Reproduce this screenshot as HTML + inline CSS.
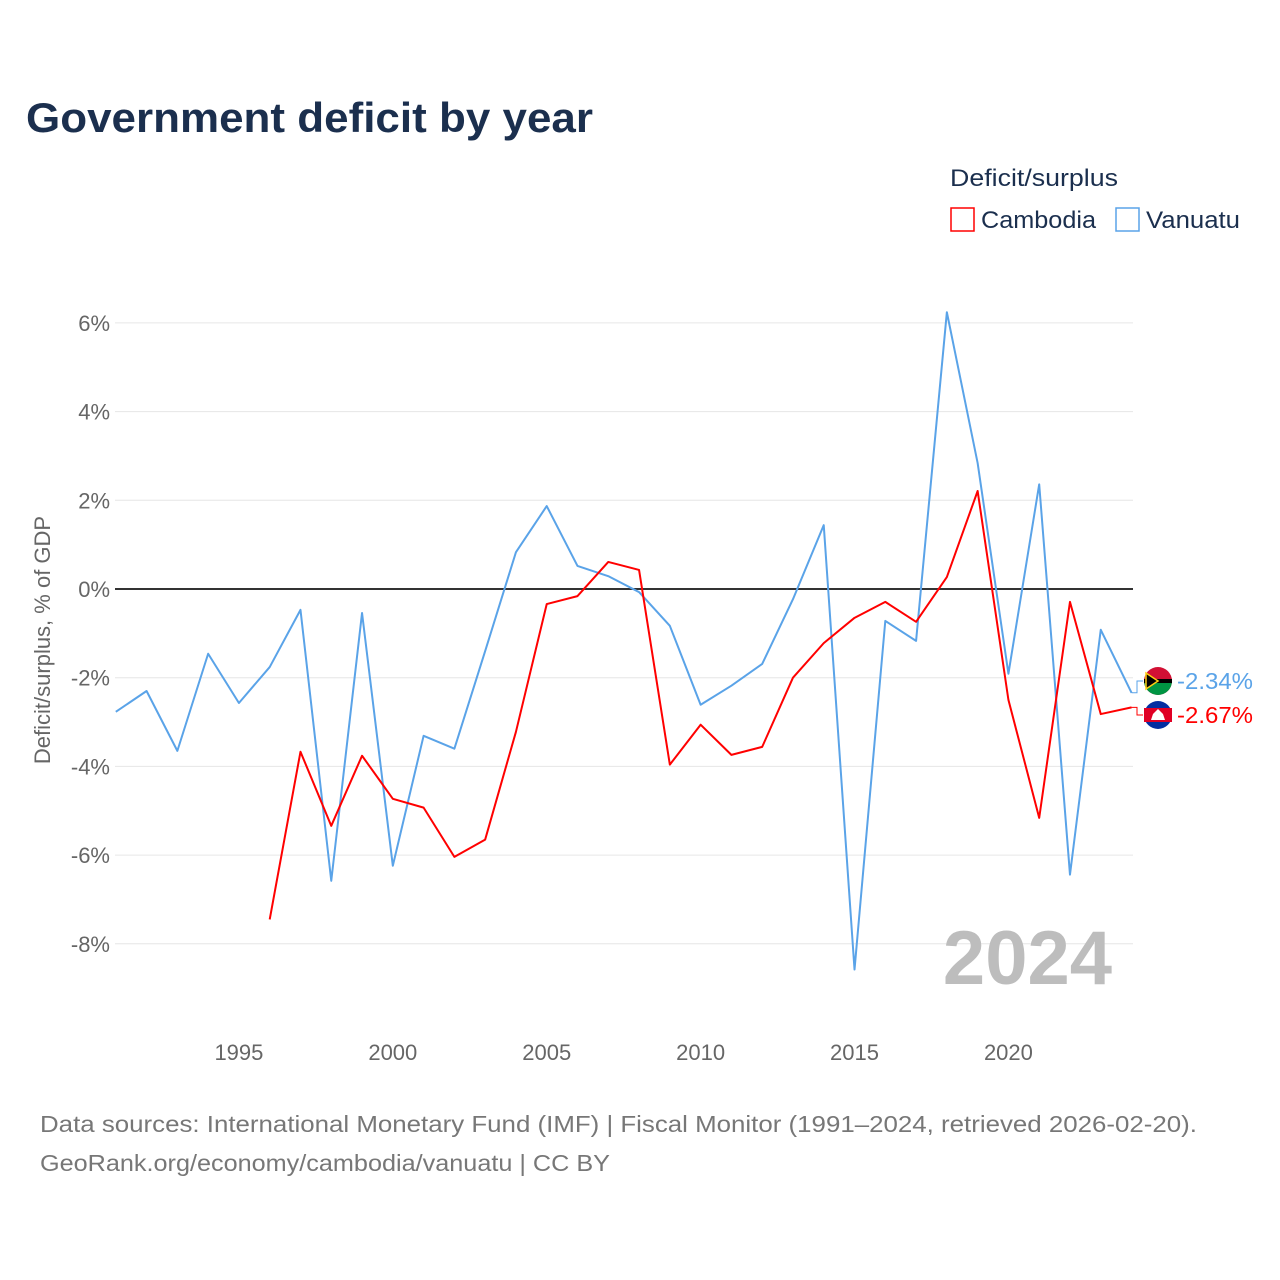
<!DOCTYPE html>
<html><head><meta charset="utf-8"><style>
html,body{margin:0;padding:0;background:#fff;width:1280px;height:1280px;overflow:hidden;font-family:"Liberation Sans",sans-serif}
</style></head><body>
<svg id="chart" width="1280" height="1280" xmlns="http://www.w3.org/2000/svg" font-family="Liberation Sans, sans-serif">
<text x="26" y="132" font-size="42" font-weight="bold" fill="#1b2f4e" textLength="567" lengthAdjust="spacingAndGlyphs">Government deficit by year</text>
<text x="950" y="186" font-size="24" fill="#1b2f4e" textLength="168" lengthAdjust="spacingAndGlyphs">Deficit/surplus</text>
<g><rect x="951" y="208" width="23" height="23" fill="none" stroke="#ff0000" stroke-width="1.5"/><text x="981" y="228" font-size="24" fill="#1b2f4e" textLength="115" lengthAdjust="spacingAndGlyphs">Cambodia</text></g>
<g><rect x="1116" y="208" width="23" height="23" fill="none" stroke="#5aa3e8" stroke-width="1.5"/><text x="1146" y="228" font-size="24" fill="#1b2f4e" textLength="94" lengthAdjust="spacingAndGlyphs">Vanuatu</text></g>
<text transform="translate(50,640) rotate(-90)" text-anchor="middle" font-size="22" fill="#666">Deficit/surplus, % of GDP</text>
<g id="grid"></g><g id="xt"></g><g id="lines"></g>
<text x="1112" y="984" text-anchor="end" font-size="76" font-weight="bold" fill="#bdbdbd">2024</text>
<text x="40" y="1132" font-size="23" fill="#777" textLength="1157" lengthAdjust="spacingAndGlyphs">Data sources: International Monetary Fund (IMF) | Fiscal Monitor (1991–2024, retrieved 2026-02-20).</text>
<text x="40" y="1171" font-size="23" fill="#777" textLength="570" lengthAdjust="spacingAndGlyphs">GeoRank.org/economy/cambodia/vanuatu | CC BY</text>
</svg>
<script>
const years=[];for(let y=1991;y<=2024;y++)years.push(y);
const vanuatu=[-2.77,-2.30,-3.65,-1.46,-2.57,-1.76,-0.47,-6.58,-0.54,-6.24,-3.31,-3.60,-1.40,0.83,1.87,0.52,0.29,-0.07,-0.83,-2.61,-2.18,-1.69,-0.23,1.44,-8.58,-0.72,-1.17,6.24,2.84,-1.91,2.36,-6.44,-0.92,-2.34];
const cambodiaYears=[];for(let y=1996;y<=2024;y++)cambodiaYears.push(y);
const cambodia=[-7.45,-3.67,-5.34,-3.76,-4.73,-4.93,-6.04,-5.65,-3.22,-0.34,-0.16,0.61,0.43,-3.96,-3.06,-3.74,-3.56,-2.00,-1.22,-0.65,-0.29,-0.74,0.27,2.21,-2.50,-5.16,-0.29,-2.82,-2.67];
const yTicks=[6,4,2,0,-2,-4,-6,-8];
const xTicks=[1995,2000,2005,2010,2015,2020];
const NS="http://www.w3.org/2000/svg";
const X=y=>115.8+(y-1991)*30.78, Y=v=>589-v*44.35;
function mk(t,a,p){const e=document.createElementNS(NS,t);for(const k in a)e.setAttribute(k,a[k]);p.appendChild(e);return e;}
const grid=document.getElementById('grid');
yTicks.forEach(v=>{
 const l=mk('line',{x1:115,x2:1133,y1:Y(v),y2:Y(v),stroke:v===0?'#333':'#e6e6e6','stroke-width':v===0?2:1},grid);
 
 
 const t=mk('text',{x:110,y:Y(v)+8,'text-anchor':'end','font-size':22,fill:'#666'},grid);
 t.textContent=v+'%';
 
 
});
const xt=document.getElementById('xt');
xTicks.forEach(v=>{
 const t=mk('text',{x:X(v),y:1060,'text-anchor':'middle','font-size':22,fill:'#666'},xt);
 t.textContent=v;
 
 
});
const lines=document.getElementById('lines');
function line(xs,vs,c,name){
 const p=mk('polyline',{points:xs.map((x,i)=>X(x)+','+Y(vs[i])).join(' '),fill:'none',stroke:c,'stroke-width':2,'stroke-linejoin':'round'},lines);
 
 
}
line(years,vanuatu,'#5aa3e8','vanuatu-line');
line(cambodiaYears,cambodia,'#ff0000','cambodia-line');
function endLabel(v,ly,c,name,flag){
 const g=mk('g',{},lines);
 
 
 const y0=Y(v);
 mk('polyline',{points:`${X(2024)},${y0} 1137,${y0} 1137,${ly} 1143,${ly}`,fill:'none',stroke:c,'stroke-width':1},g);
 flag(g,1158,ly);
 const t=mk('text',{x:1177,y:ly+8,'font-size':23,fill:c,textLength:76,lengthAdjust:'spacingAndGlyphs'},g);
 t.textContent=v.toFixed(2)+'%';
}
endLabel(vanuatu[vanuatu.length-1],681,'#5aa3e8','vanuatu-end-label',(g,cx,cy)=>{
 mk('circle',{cx,cy,r:14,fill:'#d21034'},g);
 mk('path',{d:`M${cx-14},${cy} A14,14 0 0 0 ${cx+14},${cy} Z`,fill:'#009543'},g);
 mk('rect',{x:cx-14,y:cy-2,width:28,height:4,fill:'#000'},g);
 mk('path',{d:`M${cx-12},${cy-8} L${cx},${cy} L${cx-12},${cy+8} Z`,fill:'#000',stroke:'#fdce12','stroke-width':1.5},g);
});
endLabel(cambodia[cambodia.length-1],715,'#ff0000','cambodia-end-label',(g,cx,cy)=>{
 mk('circle',{cx,cy,r:14,fill:'#032ea1'},g);
 mk('rect',{x:cx-14,y:cy-7,width:28,height:14,fill:'#e00025'},g);
 mk('path',{d:`M${cx-7},${cy+5} L${cx-5},${cy-1} L${cx},${cy-6} L${cx+5},${cy-1} L${cx+7},${cy+5} Z`,fill:'#fff'},g);
});
</script>
</body></html>
